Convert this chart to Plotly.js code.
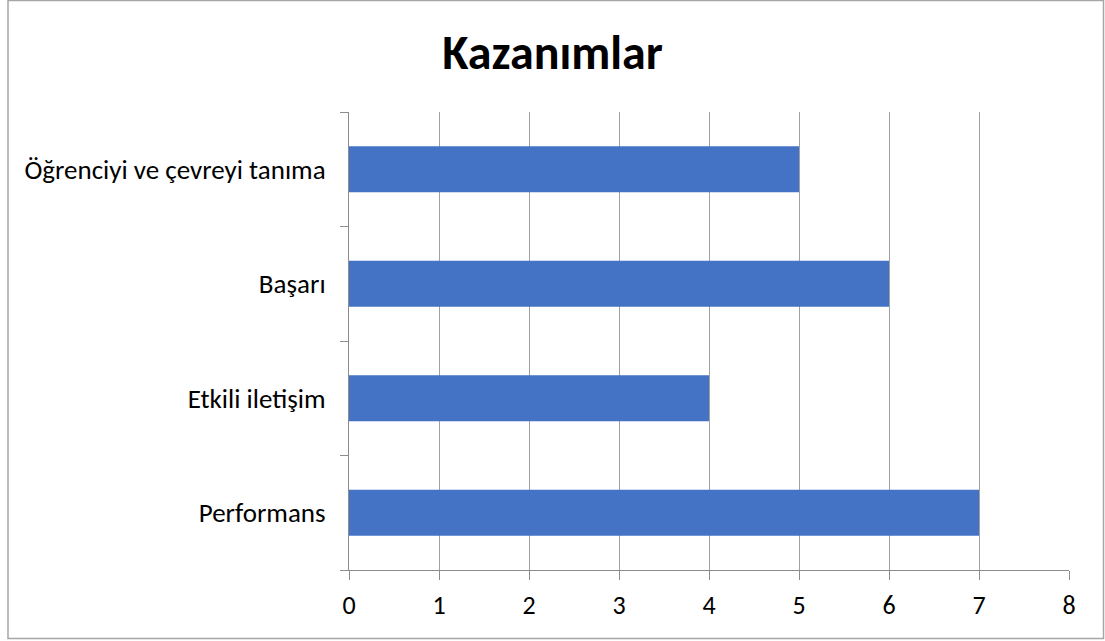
<!DOCTYPE html>
<html><head><meta charset="utf-8">
<script src="https://cdn.plot.ly/plotly-3.0.1.min.js"></script>
<style>html,body{margin:0;padding:0;background:#fff}#chart{width:1105px;height:641px}</style>
</head><body><div id="chart"></div>
<script>
const categories = ["Performans", "Etkili iletişim", "Başarı", "Öğrenciyi ve çevreyi tanıma"];
const values = [7, 4, 6, 5];
const xTicks = [0, 1, 2, 3, 4, 5, 6, 7, 8];

const font = "Carlito, Lato, 'Open Sans', sans-serif";
const trace = {
  type: "bar", orientation: "h",
  x: values, y: categories,
  marker: {color: "#4472C4"},
  hoverinfo: "x+y"
};
const layout = {
  width: 1105, height: 641,
  margin: {l: 349, r: 36, t: 112, b: 71},
  paper_bgcolor: "#fff", plot_bgcolor: "#fff",
  bargap: 0.6,
  showlegend: false,
  title: {text: "<b>Kazanımlar</b>", x: 0.5, xref: "container", xanchor: "center", y: 0.918, yref: "container", yanchor: "middle",
          font: {family: font, size: 48, color: "#000"}},
  font: {family: font, size: 26, color: "#000"},
  xaxis: {range: [0, 8], tickvals: xTicks, ticktext: xTicks.map(String), showgrid: true, gridcolor: "#a0a0a0", gridwidth: 1,
          showline: true, linecolor: "#8c8c8c", linewidth: 1, ticks: "outside", ticklen: 9, tickcolor: "#8c8c8c",
          zeroline: false, tickfont: {family: font, size: 26, color: "#000"}, ticklabelstandoff: 3, fixedrange: true},
  yaxis: {type: "category", categoryorder: "array", categoryarray: categories, showgrid: false,
          showline: true, linecolor: "#8c8c8c", linewidth: 1, ticks: "outside", ticklen: 8, tickcolor: "#8c8c8c",
          tickson: "boundaries", tickfont: {family: font, size: 27, color: "#000"}, ticklabelstandoff: 17, fixedrange: true},
  shapes: [{type: "rect", xref: "paper", yref: "paper",
            x0: (8 - 349) / 720, x1: (1103.5 - 349) / 720, y0: -(638.5 - 570) / 458, y1: (570 - 0.5) / 458,
            line: {color: "#a6a6a6", width: 1.5}, fillcolor: "rgba(0,0,0,0)", layer: "below"}]
};
Plotly.newPlot("chart", [trace], layout, {displayModeBar: false, staticPlot: false});
</script></body></html>
